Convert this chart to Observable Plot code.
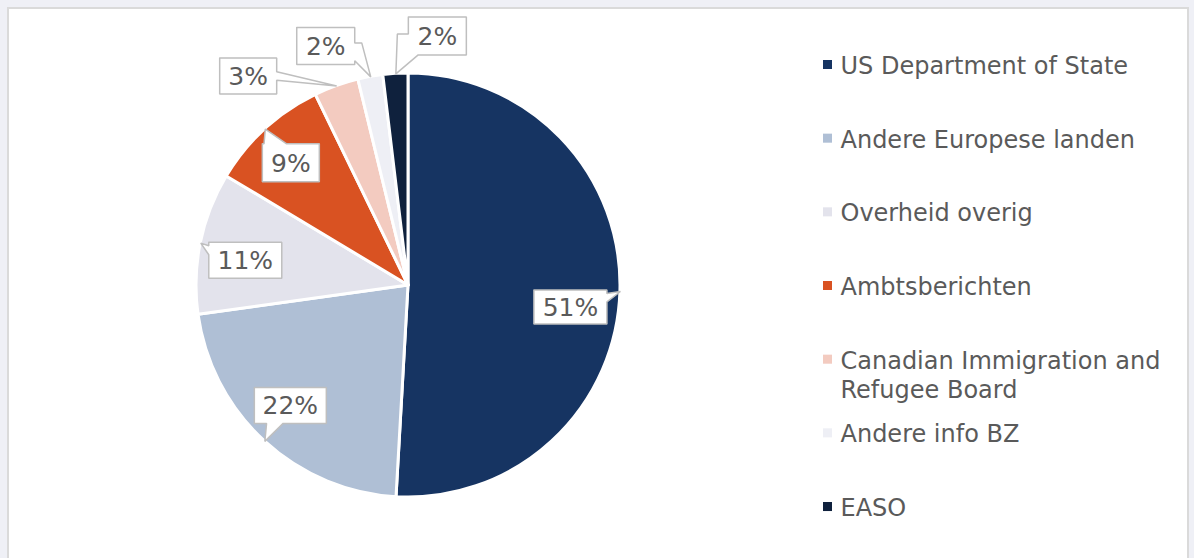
<!DOCTYPE html>
<html><head><meta charset="utf-8">
<script src="https://cdn.jsdelivr.net/npm/d3@7"></script>
<script src="https://cdn.jsdelivr.net/npm/@observablehq/plot@0.6"></script>
<style>
html,body{margin:0;padding:0;background:#eff0f6;}
#wrap{position:relative;width:1194px;height:558px;overflow:hidden;}
#panel{position:absolute;left:7px;top:7px;width:1178px;height:580px;background:#fff;border:2px solid #dadada;}
#chart{position:absolute;left:0;top:0;}
</style></head><body>
<div id="wrap"><div id="panel"></div><div id="chart"></div></div>
<script>
// ---- data ----
const categories = ["US Department of State", "Andere Europese landen", "Overheid overig", "Ambtsberichten", "Canadian Immigration and Refugee Board", "Andere info BZ", "EASO"];
const shares = [50.9, 21.9, 10.8, 9.2, 3.4, 1.9, 1.9];
const colors = ["#163462", "#afbfd5", "#e3e3ec", "#d95222", "#f3cbc0", "#eeeff5", "#0f213d"];
const legendLabels = ["US Department of State", "Andere Europese landen", "Overheid overig", "Ambtsberichten", "Canadian Immigration and\nRefugee Board", "Andere info BZ", "EASO"];

// ---- layout ----
const CX = 408, CY = 285, R = 212;
const FONT = "DejaVu Sans";
const TEXT_COLOR = "#5a5a5a";
// label box offsets from slice edge anchor, box size and tail spec
const labelLayout = [
  {dx: -50, dy: 15.5, w: 73, h: 34, side: "right", f: [0.1, 0.35]},
  {dx: 25.5, dy: -36, w: 72, h: 36, side: "bottom", f: [0.17, 0.40]},
  {dx: 44.5, dy: 17, w: 73, h: 36, side: "left", f: [0.1, 0.35]},
  {dx: 25.5, dy: 33.5, w: 57, h: 38, side: "top", f: [0.03, 0.42]},
  {dx: -88.5, dy: -10, w: 57, h: 36, side: "right", f: [0.38, 0.62]},
  {dx: -45, dy: -31, w: 58, h: 37, side: "rightElbow", f: [0.42, 0.9]},
  {dx: 41.5, dy: -38, w: 58, h: 38, side: "bottomLeftElbow", f: [0.17, 0.45]}
];
const legendX = 827, legendTextX = 840, legendTop = 73, legendStep = 73.67;

// ---- derived ----
const rows = categories.map((c, i) => ({category: c, value: shares[i], label: Math.round(shares[i]) + "%"}));
const arcs = d3.pie().value(d => d.value).sort(null)(rows);

const anchors = arcs.map(a => {
  const m = (a.startAngle + a.endAngle) / 2;
  return {x: CX + R * Math.sin(m), y: CY - R * Math.cos(m)};
});
const boxes = anchors.map((a, i) => {
  const L = labelLayout[i];
  const cx = a.x + L.dx, cy = a.y + L.dy;
  return {cx, cy, l: cx - L.w / 2, r: cx + L.w / 2, t: cy - L.h / 2, b: cy + L.h / 2, w: L.w, h: L.h};
});
const calloutPts = [];
boxes.forEach((b, i) => {
  const L = labelLayout[i], a = anchors[i], [f1, f2] = L.f;
  const pts = [[b.l, b.t]];
  if (L.side === "top") pts.push([b.l + f1 * b.w, b.t], [a.x, a.y], [b.l + f2 * b.w, b.t]);
  pts.push([b.r, b.t]);
  if (L.side === "right") pts.push([b.r, b.t + f1 * b.h], [a.x, a.y], [b.r, b.t + f2 * b.h]);
  if (L.side === "rightElbow") pts.push([b.r, b.t + f1 * b.h], [a.x - 9, b.t + f1 * b.h], [a.x, a.y], [b.r, b.t + f2 * b.h]);
  pts.push([b.r, b.b]);
  if (L.side === "bottom") pts.push([b.l + f2 * b.w, b.b], [a.x, a.y], [b.l + f1 * b.w, b.b]);
  if (L.side === "bottomLeftElbow") {
    pts.push([b.l + f1 * b.w, b.b], [a.x, a.y], [a.x + 1.5, b.t + f2 * b.h], [b.l, b.t + f2 * b.h]);
  } else {
    pts.push([b.l, b.b]);
  }
  if (L.side === "left") pts.push([b.l, b.t + f2 * b.h], [a.x, a.y], [b.l, b.t + f1 * b.h]);
  pts.push([b.l, b.t]);
  pts.forEach(p => calloutPts.push({id: i, x: p[0], y: p[1]}));
});
const labelRows = rows.map((d, i) => ({label: d.label, x: boxes[i].cx, y: boxes[i].cy + 1}));
const legendRows = categories.map((c, i) => ({category: c, text: legendLabels[i], y: legendTop + i * legendStep}));

function pieMark(index, scales) {
  const color = scales.color || (c => colors[categories.indexOf(c)]);
  const g = d3.create("svg:g");
  const arc = d3.arc().innerRadius(0).outerRadius(R);
  g.attr("transform", `translate(${scales.x(CX)},${scales.y(CY)})`);
  g.selectAll("path").data(arcs).join("path")
    .attr("d", arc)
    .attr("fill", d => color(d.data.category))
    .attr("stroke", "white").attr("stroke-width", 3).attr("stroke-linejoin", "round");
  return g.node();
}

const chart = Plot.plot({
  width: 1194, height: 558,
  margin: 0,
  x: {type: "identity", axis: null},
  y: {type: "identity", axis: null},
  color: {domain: categories, range: colors},
  style: {background: "transparent", fontFamily: FONT},
  marks: [
    pieMark,
    Plot.line(calloutPts, {x: "x", y: "y", z: "id", fill: "white", stroke: "#bfbfbf", strokeWidth: 1.5, strokeLinejoin: "miter", curve: "linear"}),
    Plot.text(labelRows, {x: "x", y: "y", text: "label", fontSize: 25, fill: TEXT_COLOR, fontFamily: FONT, textAnchor: "middle", lineAnchor: "middle"}),
    Plot.dot(legendRows, {x: () => legendX, y: d => d.y - 9, fill: "category", symbol: "square", r: 5.1}),
    Plot.text(legendRows, {x: () => legendTextX, y: d => d.y - 0.71 * 24 - 3, text: "text", fontSize: 24, fill: TEXT_COLOR, fontFamily: FONT, textAnchor: "start", lineAnchor: "top", lineHeight: 1.21})
  ]
});
document.getElementById("chart").appendChild(chart);
</script>
</body></html>
